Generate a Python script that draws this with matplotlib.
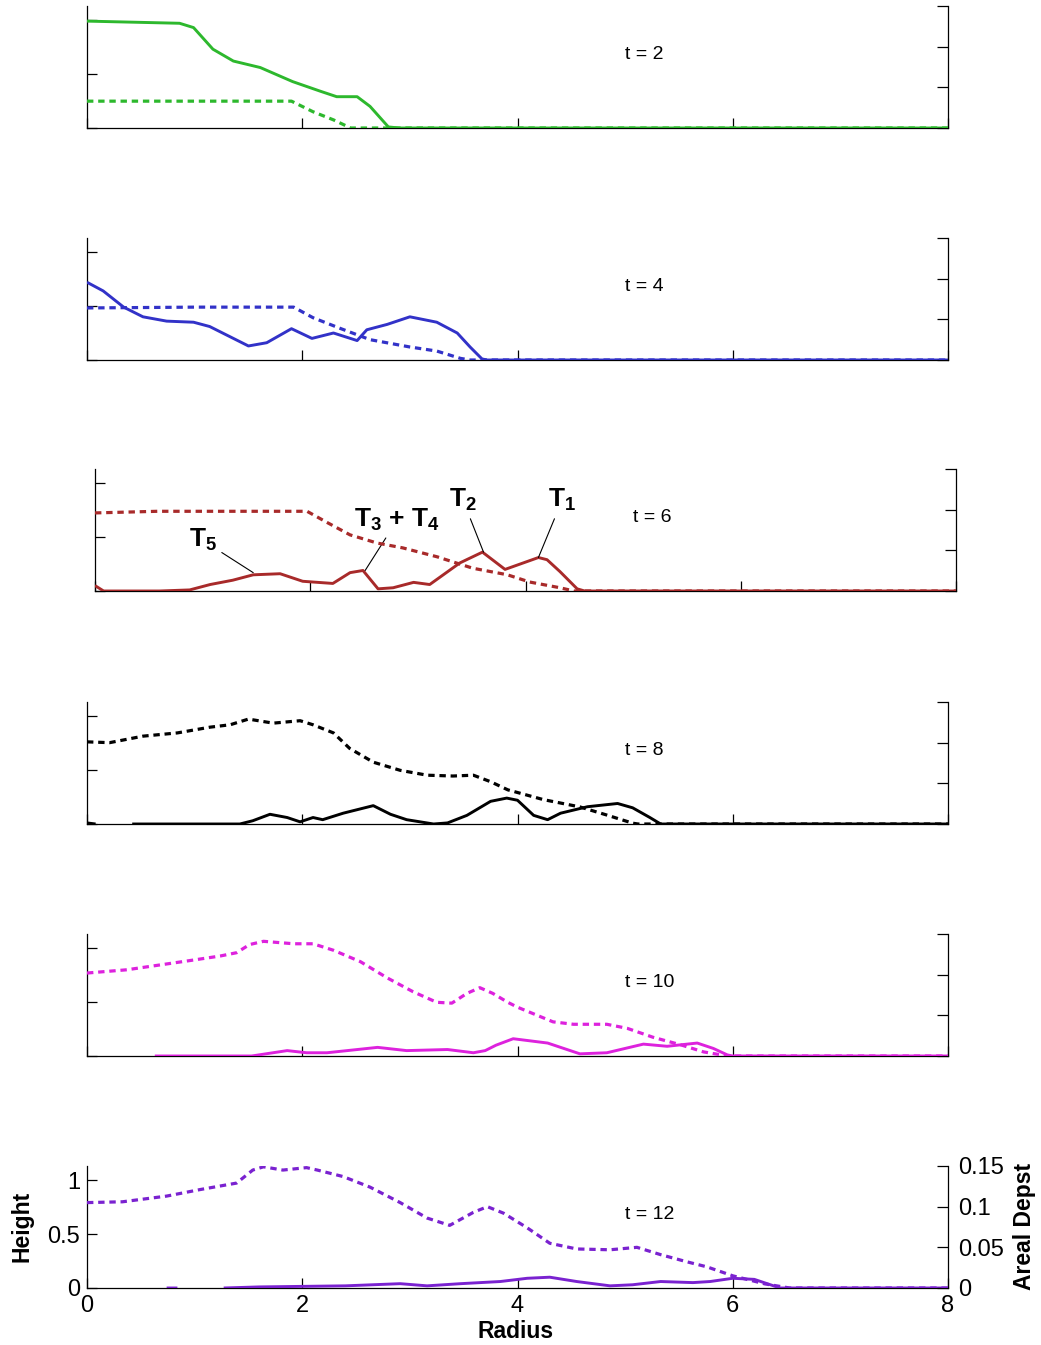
import numpy as np
import matplotlib
matplotlib.use('Agg')
import matplotlib.pyplot as plt

plt.rcParams['font.family'] = ['Liberation Sans', 'DejaVu Sans']
plt.rcParams['mathtext.fontset'] = 'custom'
plt.rcParams['mathtext.bf'] = 'Liberation Sans:bold'
plt.rcParams['mathtext.rm'] = 'Liberation Sans'

nan = np.nan

# t = 2
r_h2 = [0, 0.86, 0.99, 1.17, 1.36, 1.61, 1.91, 2.17, 2.32, 2.51, 2.63, 2.80, 2.9, 8]
h2 = [0.99, 0.97, 0.93, 0.73, 0.62, 0.56, 0.43, 0.34, 0.29, 0.29, 0.20, 0.01, 0, 0]
r_d2 = [0, 1.0, 1.9, 2.1, 2.29, 2.45, 8]
d2 = [0.033, 0.033, 0.033, 0.020, 0.010, 0, 0]

# t = 4
r_h4 = [0, 0.15, 0.34, 0.52, 0.74, 0.99, 1.14, 1.30, 1.50, 1.67, 1.90, 2.09, 2.29, 2.51,
        2.60, 2.79, 3.00, 3.25, 3.44, 3.56, 3.67, 3.72, 8]
h4 = [0.72, 0.64, 0.49, 0.40, 0.36, 0.35, 0.31, 0.23, 0.13, 0.16, 0.29, 0.20, 0.25, 0.18,
      0.28, 0.33, 0.40, 0.35, 0.25, 0.12, 0.01, 0, 0]
r_d4 = [0, 1.0, 1.92, 2.10, 2.35, 2.63, 3.0, 3.25, 3.47, 3.56, 8]
d4 = [0.064, 0.065, 0.065, 0.052, 0.039, 0.025, 0.016, 0.011, 0.002, 0, 0]

# t = 6
r_h6 = [0, 0.08, 0.6, 0.88, 1.07, 1.28, 1.47, 1.72, 1.93, 2.21, 2.37, 2.49, 2.63, 2.77,
        2.96, 3.11, 3.39, 3.60, 3.81, 4.12, 4.20, 4.32, 4.48, 4.55, 8]
h6 = [0.05, 0, 0, 0.01, 0.06, 0.10, 0.15, 0.16, 0.09, 0.07, 0.17, 0.19, 0.02, 0.03,
      0.08, 0.06, 0.26, 0.36, 0.20, 0.31, 0.29, 0.18, 0.02, 0, 0]
r_d6 = [0, 0.58, 1.97, 2.16, 2.37, 2.62, 2.86, 3.18, 3.51, 3.83, 4.04, 4.32, 4.45, 8]
d6 = [0.096, 0.098, 0.098, 0.084, 0.069, 0.059, 0.053, 0.042, 0.028, 0.020, 0.011, 0.004, 0, 0]

# t = 8
r_h8 = [0, 0.08, 0.25, 0.42, 1.42, 1.54, 1.70, 1.86, 1.98, 2.10, 2.19, 2.38, 2.66, 2.82,
        2.97, 3.22, 3.35, 3.53, 3.75, 3.90, 4.0, 4.15, 4.28, 4.40, 4.65, 4.93, 5.07, 5.23,
        5.33, 8]
h8 = [0.01, 0, nan, 0, 0, 0.03, 0.09, 0.06, 0.02, 0.06, 0.04, 0.10, 0.17, 0.09,
      0.04, 0.0, 0.01, 0.08, 0.21, 0.24, 0.22, 0.08, 0.04, 0.10, 0.16, 0.19, 0.15, 0.06,
      0, 0]
r_d8 = [0, 0.21, 0.52, 0.84, 1.14, 1.33, 1.50, 1.73, 1.98, 2.10, 2.29, 2.44, 2.66, 2.91,
        3.16, 3.40, 3.59, 3.75, 3.91, 4.24, 4.58, 4.83, 5.07, 5.12, 8]
d8 = [0.101, 0.100, 0.108, 0.112, 0.119, 0.122, 0.129, 0.124, 0.127, 0.122, 0.112, 0.093,
      0.076, 0.066, 0.060, 0.059, 0.060, 0.052, 0.042, 0.030, 0.021, 0.011, 0.001, 0, 0]

# t = 10
r_h10 = [0.63, 1.53, 1.86, 2.04, 2.23, 2.70, 2.97, 3.35, 3.59, 3.70, 3.80, 3.96, 4.28,
         4.58, 4.83, 5.17, 5.39, 5.67, 5.82, 5.95, 6.0, 8]
h10 = [0, 0, 0.05, 0.03, 0.03, 0.08, 0.05, 0.06, 0.03, 0.05, 0.10, 0.16, 0.12,
       0.02, 0.03, 0.11, 0.09, 0.12, 0.07, 0.01, 0, 0]
r_d10 = [0, 0.37, 0.68, 0.99, 1.24, 1.39, 1.51, 1.64, 1.92, 2.10, 2.29, 2.54, 2.79, 3.03,
         3.25, 3.39, 3.53, 3.65, 3.77, 3.91, 4.0, 4.33, 4.52, 4.83, 5.02, 5.26, 5.51, 5.73,
         5.91, 5.95, 8]
d10 = [0.102, 0.106, 0.112, 0.118, 0.123, 0.127, 0.137, 0.141, 0.138, 0.138, 0.130, 0.116,
       0.096, 0.079, 0.066, 0.065, 0.077, 0.084, 0.077, 0.066, 0.060, 0.042, 0.039, 0.039,
       0.034, 0.023, 0.014, 0.005, 0.001, 0, 0]

# t = 12
r_h12 = [0.74, 0.84, 1.0, 1.27, 1.6, 2.4, 2.91, 3.16, 3.47, 3.84, 4.09, 4.30, 4.55, 4.86,
         5.07, 5.33, 5.63, 5.79, 6.0, 6.2, 6.44, 8]
h12 = [0, 0, nan, 0, 0.01, 0.02, 0.04, 0.02, 0.04, 0.06, 0.09, 0.10, 0.06, 0.02,
       0.03, 0.06, 0.05, 0.06, 0.09, 0.08, 0, 0]
r_d12 = [0, 0.33, 0.74, 1.05, 1.39, 1.54, 1.64, 1.82, 2.04, 2.14, 2.38, 2.63, 2.91, 3.16,
         3.37, 3.59, 3.72, 3.87, 4.09, 4.30, 4.55, 4.86, 5.11, 5.33, 5.58, 5.76, 6.0, 6.3,
         6.53, 8]
d12 = [0.105, 0.106, 0.113, 0.121, 0.129, 0.145, 0.149, 0.145, 0.148, 0.145, 0.137, 0.124,
       0.105, 0.086, 0.077, 0.093, 0.100, 0.092, 0.074, 0.055, 0.048, 0.047, 0.050, 0.041,
       0.032, 0.026, 0.015, 0.005, 0, 0]

times = [2, 4, 6, 8, 10, 12]
colors = ['#2db82d', '#3232c8', '#a82a2a', '#000000', '#dd22dd', '#7a22d0']
heights = [(r_h2, h2), (r_h4, h4), (r_h6, h6), (r_h8, h8), (r_h10, h10), (r_h12, h12)]
deposits = [(r_d2, d2), (r_d4, d4), (r_d6, d6), (r_d8, d8), (r_d10, d10), (r_d12, d12)]

# peak labels on the t = 6 panel
peak_labels = [r'$\mathbf{T_5}$', r'$\mathbf{T_3}$ + $\mathbf{T_4}$', r'$\mathbf{T_2}$', r'$\mathbf{T_1}$']
peak_xy = [(1.47, 0.17), (2.51, 0.19), (3.61, 0.36), (4.12, 0.31)]
label_xy = [(1.0, 0.47), (2.81, 0.66), (3.42, 0.84), (4.34, 0.84)]

W, H = 1041, 1345
fig = plt.figure(figsize=(W / 100, H / 100), dpi=100)

bottoms = [128, 360, 591, 824, 1056, 1288]
lefts = [87, 87, 95, 87, 87, 87]
ax_w = 861
ax_h = 122

for i in range(6):
    ax = fig.add_axes([lefts[i] / W, 1 - bottoms[i] / H, ax_w / W, ax_h / H])
    ax2 = ax.twinx()
    rh, hh = heights[i]
    rd, dd = deposits[i]
    ax.plot(rh, hh, color=colors[i], lw=2.1, solid_capstyle='butt', zorder=3)
    ax2.plot(rd, dd, color=colors[i], lw=2.3, linestyle=(0, (2.0, 1.5)), zorder=3)

    ax.set_xlim(0, 8)
    ax.set_ylim(0, 1.13)
    ax2.set_ylim(0, 0.15)
    ax.set_xticks([0, 2, 4, 6, 8])
    ax.set_yticks([0, 0.5, 1])
    ax2.set_yticks([0, 0.05, 0.1, 0.15])

    for a in (ax, ax2):
        a.spines['top'].set_visible(False)
        for s in a.spines.values():
            s.set_linewidth(0.9)
    ax.spines['right'].set_visible(False)
    ax2.spines['left'].set_visible(False)
    ax2.spines['bottom'].set_visible(False)

    ax.tick_params(axis='x', direction='in', length=7, width=0.9, pad=5, labelsize=17)
    ax.tick_params(axis='y', direction='in', length=7, width=0.9, pad=5, labelsize=17)
    ax2.tick_params(axis='y', direction='in', length=8, width=0.9, pad=7, labelsize=17)

    if i < 5:
        ax.set_xticklabels([])
        ax.set_yticklabels([])
        ax2.set_yticklabels([])
    else:
        ax.set_xticklabels(['0', '2', '4', '6', '8'])
        ax.set_yticklabels(['0', '0.5', '1'])
        ax2.set_yticklabels(['0', '0.05', '0.1', '0.15'])

    ax.text(5.0, 0.6, 't = %d' % times[i], transform=ax.get_xaxis_transform(),
            fontsize=14, ha='left', va='center')

    if i == 2:
        for lab, pxy, txy in zip(peak_labels, peak_xy, label_xy):
            ax.annotate(lab, xy=pxy, xytext=txy, fontsize=19, fontweight='bold',
                        ha='center', va='center',
                        arrowprops=dict(arrowstyle='-', color='black', lw=0.8,
                                        shrinkA=2, shrinkB=0))

fig.text(22 / W, 1 - 1226 / H, 'Height', rotation=90, fontsize=16.5, fontweight='bold',
         ha='center', va='center')
fig.text(1025 / W, 1 - 1226 / H, 'Areal Depst', rotation=90, fontsize=16.5,
         fontweight='bold', ha='center', va='center')
fig.text(516 / W, 1 - 1331 / H, 'Radius', fontsize=16.5, fontweight='bold',
         ha='center', va='center')

fig.savefig('out.png', dpi=100)
